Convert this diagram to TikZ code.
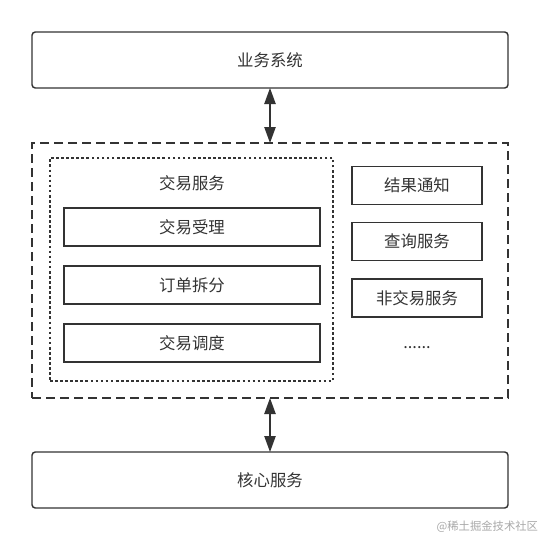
\documentclass[tikz,border=0pt]{standalone}
\usepackage{fontspec}
\setmainfont{Noto Sans CJK SC}
\usepackage{tikz}
\usetikzlibrary{arrows.meta}
\definecolor{trait}{HTML}{333333}
\definecolor{filigrane}{HTML}{A8A8A8}

\begin{document}
\begin{tikzpicture}[x=0.75pt, y=-0.75pt,
        every node/.style={inner sep=0pt, outer sep=0pt, text=trait, font=\fontsize{12.3pt}{14pt}\selectfont},
        grande/.style={draw=trait, line width=1.1pt, rounded corners=2.5pt, minimum width=357pt, minimum height=42pt},
        module/.style={draw=trait, line width=1pt, minimum height=28.5pt},
        double fleche/.style={trait, line width=1pt, {Triangle[length=12pt,width=8.5pt]}-{Triangle[length=12pt,width=8.5pt]}}]
        \useasboundingbox (0,0) rectangle (539,540);

        % Systemes autour
        \node[grande] (metier) at (270,60) {业务系统};
        \node[grande] (coeur) at (270,480) {核心服务};

        % Cadre du service
        \node[draw=trait, line width=1.1pt, dash pattern=on 6.5pt off 4pt, minimum width=357pt, minimum height=191.25pt] (cadre) at (270,270.5) {};
        \node[draw=trait, line width=1pt, dash pattern=on 2pt off 1.8pt, minimum width=212.25pt, minimum height=167.25pt] (transac) at (191.5,269.5) {};
        \node (titre) at (192,183) {交易服务};

        % Modules de gauche
        \node[module, minimum width=192pt] (accept) at (192,227) {交易受理};
        \node[module, minimum width=192pt] (decoup) at (192,285) {订单拆分};
        \node[module, minimum width=192pt] (ordon) at (192,343) {交易调度};

        % Modules de droite
        \node[module, minimum width=97.5pt] (notif) at (417,185.5) {结果通知};
        \node[module, minimum width=97.5pt] (requete) at (417,241.5) {查询服务};
        \node[module, minimum width=97.5pt] (autres) at (417,298) {非交易服务};
        \node (suite) at (417,348) {......};

        % Liaisons
        \draw[double fleche] (metier.south) -- (cadre.north);
        \draw[double fleche] (cadre.south) -- (coeur.north);

        \node[anchor=east, text=filigrane, font=\fontsize{8.5pt}{10pt}\selectfont] (marque) at (538,527) {@稀土掘金技术社区};
    \end{tikzpicture}
\end{document}
